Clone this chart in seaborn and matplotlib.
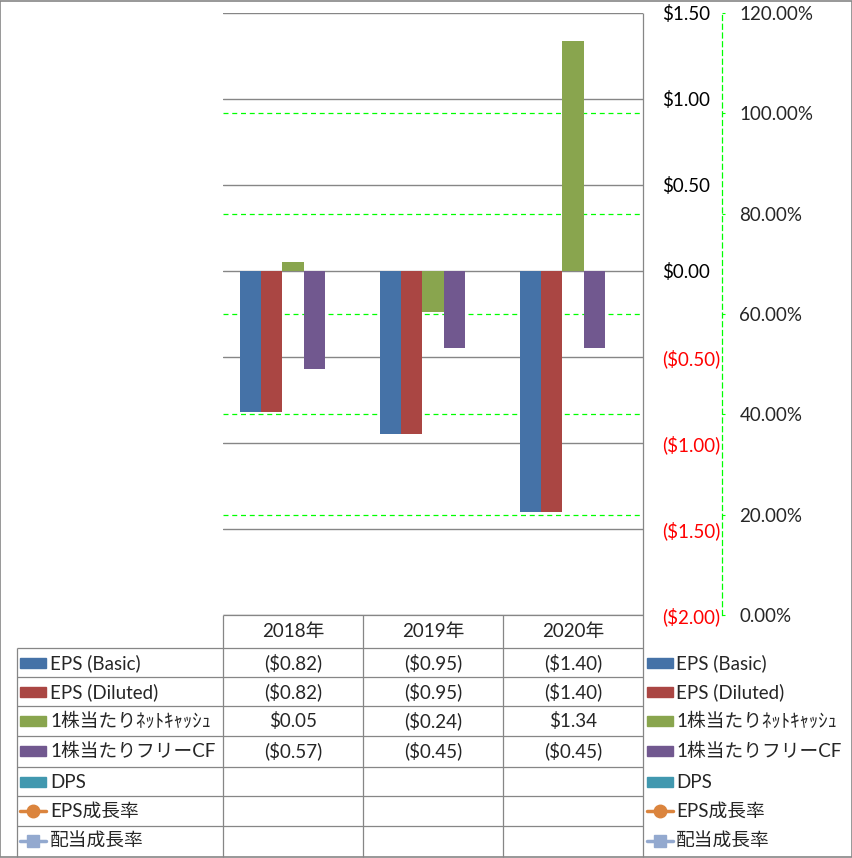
import numpy as np
import pandas as pd
import matplotlib
matplotlib.use("Agg")
import matplotlib.pyplot as plt
from matplotlib.lines import Line2D
from matplotlib.patches import Rectangle
import seaborn as sns

# データ
years = ["2018年", "2019年", "2020年"]
bar_names = ["EPS (Basic)", "EPS (Diluted)", "1株当たりﾈｯﾄｷｬｯｼｭ", "1株当たりフリーCF", "DPS"]
line_names = ["EPS成長率", "配当成長率"]
eps_basic = [-0.82, -0.95, -1.40]
eps_diluted = [-0.82, -0.95, -1.40]
net_cash = [0.05, -0.24, 1.34]
free_cf = [-0.57, -0.45, -0.45]
dps = [np.nan, np.nan, np.nan]
eps_growth = [np.nan, np.nan, np.nan]
div_growth = [np.nan, np.nan, np.nan]

usd_ticks = [-2.0, -1.5, -1.0, -0.5, 0.0, 0.5, 1.0, 1.5]
pct_ticks = [0.0, 0.2, 0.4, 0.6, 0.8, 1.0, 1.2]

colors = {
    "EPS (Basic)": "#4572A7",
    "EPS (Diluted)": "#AA4643",
    "1株当たりﾈｯﾄｷｬｯｼｭ": "#89A54E",
    "1株当たりフリーCF": "#71588F",
    "DPS": "#4198AF",
    "EPS成長率": "#DB843D",
    "配当成長率": "#93A9CF",
}

bar_values = [eps_basic, eps_diluted, net_cash, free_cf, dps]
df = pd.DataFrame({
    "year": years * len(bar_names),
    "series": [n for n in bar_names for _ in years],
    "value": [v for vals in bar_values for v in vals],
})

sns.set_theme(style="white")
plt.rcParams["font.family"] = ["Lato", "Noto Sans CJK JP", "DejaVu Sans"]
FS = 13.5
GRAY = "#868686"
LIME = "#00FF00"

W, H = 853, 858
fig = plt.figure(figsize=(W / 100, H / 100), dpi=100)


def fx(px):
    return px / W


def fy(py):
    return 1 - py / H


def money(v):
    return f"(${abs(v):.2f})" if v < 0 else f"${v:.2f}"


rect = [fx(223), fy(615), fx(643) - fx(223), fy(13) - fy(615)]
ax = fig.add_axes(rect)
ax2 = ax.twinx()
ax.set_zorder(2)
ax2.set_zorder(1)
ax.patch.set_visible(False)

sns.barplot(data=df, x="year", y="value", hue="series", hue_order=bar_names,
            palette=colors, width=0.76, saturation=1, errorbar=None,
            linewidth=0, legend=False, ax=ax)

ax.set_xlim(-0.5, 2.5)
ax.set_ylim(-2.0, 1.5)
ax.yaxis.tick_right()
ax.set_yticks(usd_ticks)
ax.set_yticklabels([money(v) for v in usd_ticks])
ax.tick_params(axis="y", length=0, pad=13.5, labelsize=FS)
for tick, v in zip(ax.yaxis.get_major_ticks(), usd_ticks):
    tick.label2.set_color("#FF0000" if v < 0 else "black")
ax.set_xticks([])
ax.set_xlabel("")
ax.set_ylabel("")
ax.yaxis.grid(True, color=GRAY, lw=1)
ax.set_axisbelow(True)
for s in ax.spines.values():
    s.set_visible(False)

# 第2軸 (成長率)
ax2.set_ylim(0, 1.2)
ax2.set_yticks(pct_ticks)
ax2.set_yticklabels([f"{v * 100:.2f}%" for v in pct_ticks])
ax2.tick_params(axis="y", direction="out", length=2.5, width=0.8, color=LIME,
                pad=10, labelsize=FS)
for v in pct_ticks[1:-1]:
    ax2.axhline(v, color=LIME, lw=0.9, ls=(0, (4, 3)))
for name in ["left", "top", "bottom"]:
    ax2.spines[name].set_visible(False)
ax2.spines["right"].set_position(("outward", 79 * 0.72))
ax2.spines["right"].set_color(LIME)
ax2.spines["right"].set_linestyle((0, (4, 3)))
ax2.spines["right"].set_linewidth(0.9)
ax2.plot(range(len(years)), eps_growth, color=colors["EPS成長率"], marker="o")
ax2.plot(range(len(years)), div_growth, color=colors["配当成長率"], marker="s")

# データテーブルと凡例
tab = fig.add_axes([0, 0, 1, 1], zorder=3)
tab.set_xlim(0, W)
tab.set_ylim(H, 0)
tab.axis("off")

row_lines = [648, 677, 706, 736, 767, 796, 826]
row_centers = [663, 692, 721, 751, 782, 811, 841]
col_edges = [223, 363, 503, 643]
col_centers = [293, 433, 573]

tab.hlines(615, 223, 643, color=GRAY, lw=0.9)
tab.hlines(row_lines, 17, 643, color=GRAY, lw=0.9)
tab.vlines(17, 648, 857, color=GRAY, lw=0.9)
tab.vlines(col_edges[:-1], 615, 857, color=GRAY, lw=0.9)
tab.vlines(643, 13, 857, color=GRAY, lw=0.9)
tab.add_patch(Rectangle((0.5, 0.5), W - 1.5, H - 1.5, fill=False, ec=GRAY, lw=1.2))

for x, yr in zip(col_centers, years):
    tab.text(x, 632, yr, ha="center", va="center", fontsize=FS)


def draw_key(x, y, name):
    c = colors[name]
    if name in bar_names:
        tab.add_patch(Rectangle((x, y - 5), 26, 10, color=c))
    else:
        mk = "o" if name == "EPS成長率" else "s"
        tab.add_line(Line2D([x, x + 26], [y, y], color=c, lw=2.5))
        tab.add_line(Line2D([x + 13], [y], color=c, marker=mk, ms=9, mec=c))


all_names = bar_names + line_names
all_values = bar_values + [eps_growth, div_growth]
for name, vals, yc in zip(all_names, all_values, row_centers):
    draw_key(20, yc, name)
    tab.text(50, yc, name, ha="left", va="center", fontsize=FS)
    draw_key(647, yc, name)
    tab.text(676, yc, name, ha="left", va="center", fontsize=FS)
    for x, v in zip(col_centers, vals):
        if np.isnan(v):
            continue
        tab.text(x, yc, money(v), ha="center", va="center", fontsize=FS)

fig.savefig("out.png", dpi=100)
